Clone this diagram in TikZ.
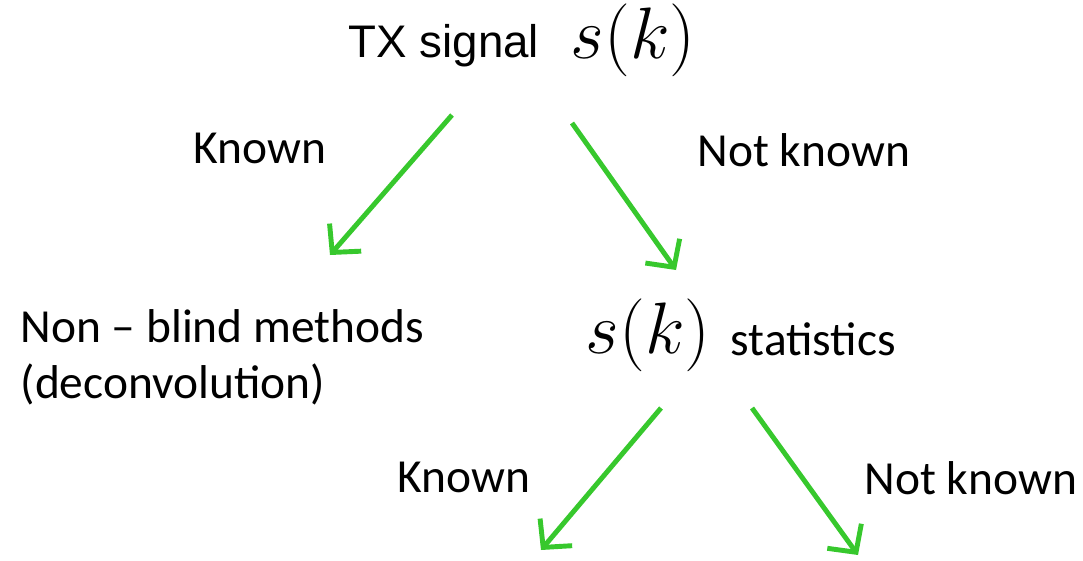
\documentclass[tikz,border=0pt]{standalone}
\usepackage{amsmath}
\usepackage{fontspec}
\setmainfont{Carlito}
\newfontfamily\arialfont{Liberation Sans}
\usetikzlibrary{arrows.meta, positioning}
\definecolor{arrowgreen}{RGB}{55,200,45}
\newcommand{\labfont}{\fontsize{13.5}{16}\selectfont}
\newcommand{\mathbig}{\fontsize{19.5}{23}\selectfont}

\begin{document}
\begin{tikzpicture}[
    lab/.style={anchor=base west, inner sep=0pt, font=\labfont},
    sig/.style={anchor=base west, inner sep=0pt, font=\mathbig},
    arrow/.style={-{Straight Barb[length=2mm,width=4.2mm]}, line width=1.4pt, draw=arrowgreen}
]
\useasboundingbox (0,0) rectangle (10.83,-5.60);

% top: transmitted signal
\node[lab, font=\arialfont\fontsize{13}{16}\selectfont] (tx) at (3.48,-0.57) {TX signal};
\node[sig] (s1) at (5.70,-0.58) {$s(k)$};

% first split
\node[lab] (known1) at (1.93,-1.63) {Known};
\node[lab] (notknown1) at (6.97,-1.66) {Not known};

% left branch
\node[lab] (nonblind) at (0.20,-3.42) {Non -- blind methods};
\node[lab] (deconv) at (0.20,-3.98) {(deconvolution)};

% right branch
\node[sig] (s2) at (5.85,-3.53) {$s(k)$};
\node[lab] (stats) at (7.30,-3.55) {statistics};

% second split
\node[lab] (known2) at (3.97,-4.92) {Known};
\node[lab] (notknown2) at (8.64,-4.94) {Not known};

% arrow ends
\coordinate (a1s) at (4.52,-1.15);
\coordinate (a1e) at (3.30,-2.55);
\coordinate (a2s) at (5.72,-1.23);
\coordinate (a2e) at (6.76,-2.70);
\coordinate (a3s) at (6.61,-4.08);
\coordinate (a3e) at (5.41,-5.50);
\coordinate (a4s) at (7.52,-4.08);
\coordinate (a4e) at (8.58,-5.55);

% arrows
\draw[arrow] (a1s) -- (a1e);
\draw[arrow] (a2s) -- (a2e);
\draw[arrow] (a3s) -- (a3e);
\draw[arrow] (a4s) -- (a4e);
\end{tikzpicture}
\end{document}
